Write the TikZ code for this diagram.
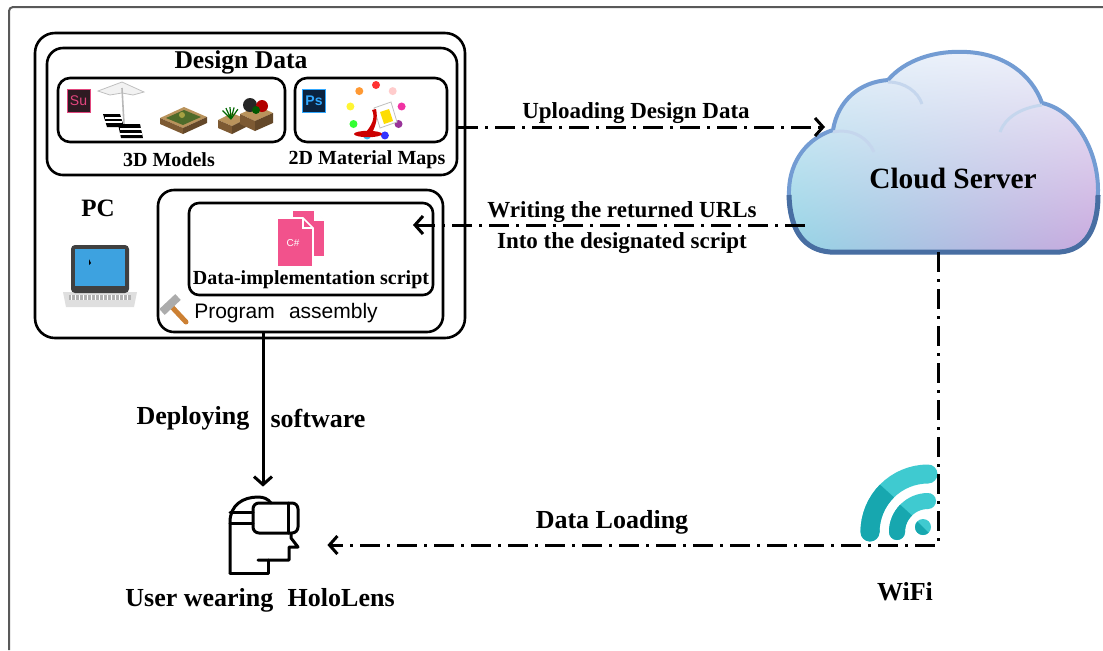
\documentclass[tikz,border=0pt]{standalone}
\usepackage{fontspec}
\setmainfont{Liberation Serif}
\setsansfont{Liberation Sans}
\usepackage{xcolor}
\usepackage{tikz}
\usetikzlibrary{arrows.meta}
\usetikzlibrary{calc}
\usetikzlibrary{shadings}

\definecolor{supink}{HTML}{E2467E}
\definecolor{sudark}{HTML}{2E1A22}
\definecolor{psblue}{HTML}{31A8FF}
\definecolor{psdark}{HTML}{0B2340}
\definecolor{cspink}{HTML}{F2528C}
\definecolor{wifilight}{HTML}{3FCAD0}
\definecolor{wifidark}{HTML}{17A7AF}
\definecolor{cloudrim}{HTML}{5A8ACB}
\definecolor{cloudtl}{HTML}{E8F2FB}
\definecolor{cloudtr}{HTML}{F0F1FA}
\definecolor{cloudbl}{HTML}{94D4E5}
\definecolor{cloudbr}{HTML}{C9A8DE}
\definecolor{screenblue}{HTML}{3DA2E0}
\definecolor{woodlight}{HTML}{B9935C}
\definecolor{wooddark}{HTML}{7D5A33}
\definecolor{grass}{HTML}{4E6B2A}

% outline of the cloud (pixel grid, y downwards)
\def\cloudpath{(830,252) .. controls (800,250) and (788,225) .. (789,190)
  .. controls (790,160) and (808,138) .. (833,130)
  .. controls (838,100) and (860,82) .. (888,80)
  .. controls (905,60) and (935,50) .. (967,52)
  .. controls (1005,54) and (1032,75) .. (1042,103)
  .. controls (1075,110) and (1098,150) .. (1098,190)
  .. controls (1098,230) and (1085,250) .. (1060,252) -- cycle}

\begin{document}
\begin{tikzpicture}[x=0.5pt,y=-0.5pt,
  boxframe/.style={draw,line width=1.3pt,rounded corners=#1,inner sep=0pt},
  title/.style={font=\fontsize{12.8}{15}\selectfont\bfseries},
  small/.style={font=\fontsize{10}{12}\selectfont\bfseries},
  lbl/.style={font=\fontsize{11.5}{14}\selectfont\bfseries},
  big/.style={font=\fontsize{13}{15}\selectfont\bfseries},
  flow/.style={line width=1.5pt,dash pattern=on 10pt off 3.5pt on 1.5pt off 3.5pt,-{Straight Barb[length=4pt,width=9pt]}},
  deploy/.style={line width=1.5pt,-{Straight Barb[length=4pt,width=9pt]}},
  icon/.style={line width=1.5pt,line join=round,line cap=round}]
\useasboundingbox (0,0) rectangle (1103,650);
\draw[gray!70!black,line width=1pt,rounded corners=2pt] (9,650) -- (9,7) -- (1103,7);

% PC side
\node[boxframe=10pt,minimum width=215pt,minimum height=152.5pt] (pc) at (250,185.5) {};
\node[boxframe=8pt,minimum width=205pt,minimum height=63.5pt] (design) at (252,111.5) {};
\node[boxframe=6pt,minimum width=113.5pt,minimum height=32pt] (models) at (171.5,110) {};
\node[boxframe=6pt,minimum width=76pt,minimum height=32pt] (maps) at (371,110) {};
\node[boxframe=8pt,minimum width=142.5pt,minimum height=71pt] (assembly) at (300.5,261) {};
\node[boxframe=5pt,minimum width=122pt,minimum height=46pt] (script) at (311,249) {};

\node[title] (designlbl) at (241,62) {Design Data};
\node[small] (modelslbl) at (169,160) {3D Models};
\node[small] (mapslbl) at (367,160) {2D Material Maps};
\node[font=\fontsize{12.5}{15}\selectfont\bfseries] (pclbl) at (98,208) {PC};
\node[small] (scriptlbl) at (311,280) {Data-implementation script};
\node[font=\sffamily\fontsize{10.5}{12}\selectfont] (asmlbl) at (286,313) {Program\hspace{0.4em} assembly};

% app logos
\node[draw=supink,fill=sudark,text=supink,minimum size=11.5pt,inner sep=0pt,
  font=\sffamily\fontsize{7}{7}\selectfont] (su) at (78.5,101) {Su};
\node[draw=psblue,fill=psdark,text=psblue,minimum size=11.5pt,inner sep=0pt,
  font=\sffamily\bfseries\fontsize{7}{7}\selectfont] (ps) at (314,101) {Ps};

% umbrella and loungers
\filldraw[fill=gray!10,draw=gray!50,line width=0.4pt] (98,91) -- (122,82) -- (144,92) -- (133,95) -- (122,93) -- (110,95) -- cycle;
\draw[gray!55,line width=0.8pt] (122,88) -- (124,124);
\fill[black] (103,114) -- (120,114) -- (124,127) -- (107,127) -- cycle;
\fill[black] (118,124) -- (140,124) -- (143,138) -- (121,138) -- cycle;
\foreach \yy in {118,122}
  \draw[white,line width=0.6pt] (105,\yy) -- (122,\yy);
\foreach \yy in {129,134}
  \draw[white,line width=0.6pt] (120,\yy) -- (142,\yy);

% sand pit
\fill[woodlight] (160,118) -- (184,107) -- (207,117) -- (183,128) -- cycle;
\fill[grass] (166,118) -- (184,110) -- (201,117) -- (183,125) -- cycle;
\fill[wooddark] (160,118) -- (183,128) -- (183,134) -- (160,124) -- cycle;
\fill[wooddark!80!black] (183,128) -- (207,117) -- (207,123) -- (183,134) -- cycle;
\fill[yellow!60!black] (182,115) circle (1.5pt);

% planters
\fill[woodlight] (218,120) -- (232,113) -- (246,119) -- (232,126) -- cycle;
\fill[wooddark] (218,120) -- (232,126) -- (232,134) -- (218,128) -- cycle;
\fill[wooddark!80!black] (232,126) -- (246,119) -- (246,127) -- (232,134) -- cycle;
\fill[woodlight] (240,114) -- (258,106) -- (273,113) -- (255,121) -- cycle;
\fill[wooddark] (240,114) -- (255,121) -- (255,131) -- (240,124) -- cycle;
\fill[wooddark!80!black] (255,121) -- (273,113) -- (273,123) -- (255,131) -- cycle;
\foreach \a in {55,75,95,115,135}
  \draw[green!40!black,line width=0.6pt] (231,119) -- ++(\a:6pt);
\fill[black!85] (250,105) circle (3.5pt);
\fill[red!70!black] (262,106) circle (3pt);
\fill[green!35!black] (256,110) circle (2pt);

% paint palette
\foreach \a/\c in {90/red,130/orange,170/yellow,210/green,250/cyan,290/blue,330/violet,10/magenta,50/pink}
  \fill[\c!80] (376,111) ++(\a:13pt) circle (2pt);
\filldraw[fill=white,draw=gray!50,line width=0.4pt] (374,108) -- (391,102) -- (397,122) -- (380,128) -- cycle;
\fill[yellow!80!orange] (380,112) -- (389,109) -- (393,121) -- (384,124) -- cycle;
\fill[red!80!black] (372,110) .. controls (376,118) and (371,126) .. (366,132) -- (372,133) .. controls (376,125) and (378,118) .. (376,109) -- cycle;
\fill[red!80!black] (368,134) ellipse (7pt and 1.6pt);

% laptop
\fill[gray!25] (63,292) -- (137,292) -- (134,307) -- (66,307) -- cycle;
\fill[black!75,rounded corners=2pt] (71,245) rectangle (129,293);
\fill[screenblue] (75,249) rectangle (125,286);
\fill[gray!60] (69,295) rectangle (131,300);
\foreach \k in {0,...,14}
  \draw[white,line width=0.3pt] ({71+4*\k},295) -- ({71+4*\k},300);
\fill[black] (89,259) -- (89,265) -- (91,263) -- cycle;

% script files
\foreach \x/\y/\w/\h in {292/210/33/47,277/218/36/49}
  \filldraw[fill=cspink,draw=white,line width=0.8pt] (\x,\y) -- ({\x+\w-10},\y) -- ({\x+\w},{\y+10}) -- ({\x+\w},{\y+\h}) -- (\x,{\y+\h}) -- cycle
    ({\x+\w-10},\y) -- ({\x+\w-10},{\y+10}) -- ({\x+\w},{\y+10});
\node[text=white,font=\sffamily\fontsize{5}{5}\selectfont] (cs) at (293,243) {C\#};

% hammer
\draw[line width=2.5pt,brown!80!orange,line cap=round] (186,322) -- (171,306);
\draw[line width=4pt,gray!65] (162,312) -- (178,297);

% cloud server
\shade[upper left=cloudtl,upper right=cloudtr,lower left=cloudbl,lower right=cloudbr] \cloudpath;
\draw[cloudrim!85,line width=2pt] \cloudpath;
\draw[cloudrim!80!black,line width=2.5pt] (789,195) .. controls (790,232) and (805,250) .. (830,252) -- (1060,252) .. controls (1085,250) and (1098,230) .. (1098,195);
\draw[cloudrim!35,line width=1.5pt] (833,132) .. controls (852,128) and (868,138) .. (874,152);
\draw[cloudrim!35,line width=1.5pt] (888,82) .. controls (905,82) and (918,92) .. (922,104);
\draw[cloudrim!35,line width=1.5pt] (1042,105) .. controls (1020,108) and (1005,118) .. (1000,132);
\node[inner sep=0pt,minimum width=154.5pt,minimum height=100pt] (cloud) at (943.5,152) {};
\node[font=\fontsize{14.7}{17}\selectfont\bfseries] (server) at (953,178) {Cloud Server};

% headset user
\node[inner sep=0pt,minimum width=35pt,minimum height=38pt] (hmd) at (263,535) {};
\begin{scope}[icon]
\draw (230,573) -- (230,522) .. controls (230,505) and (243,497) .. (258,497) .. controls (264,497) and (268,499) .. (271,503);
\draw (230,512) -- (253,512) (230,523) -- (253,523);
\draw[rounded corners=3pt] (253,503) rectangle (298,533);
\draw (288,503) -- (288,533);
\draw (291,533) -- (291,538) -- (298,547) -- (289,547) -- (289,560) -- (258,560);
\draw (268,560) -- (268,573) -- (230,573);
\end{scope}
\node[big] (userlbl) at (260,600) {User wearing\hspace{0.3em} HoloLens};

% wifi sign
\node[inner sep=0pt,minimum size=36pt] (wifi) at (897,500) {};
\begin{scope}[shift={(928,532)},x=1pt,y=1pt]
\draw[wifilight,line width=9.5pt,line cap=round] (0,29) arc[start angle=90,end angle=180,radius=29];
\draw[wifidark,line width=9.5pt] (135:29) arc[start angle=135,end angle=180,radius=29];
\fill[wifidark] (-29,0) circle (4.75);
\draw[wifilight,line width=8pt,line cap=round] (0,15.5) arc[start angle=90,end angle=180,radius=15.5];
\draw[wifidark,line width=8pt] (135:15.5) arc[start angle=135,end angle=180,radius=15.5];
\fill[wifidark] (-15.5,0) circle (4);
\fill[wifilight] (-2.5,2.5) circle (4);
\fill[wifidark] (-2.5,2.5) ++(135:4) arc[start angle=135,end angle=315,radius=4] -- cycle;
\end{scope}
\node[big] (wifilbl) at (905,592) {WiFi};

% connectors
\coordinate (upend) at (825,127);
\coordinate (wrstart) at (805,225);
\coordinate (wrend) at (413,225);
\coordinate (corner) at (938,545);
\draw[flow] (design.east |- upend) -- (upend);
\draw[flow] (wrstart) -- (wrend);
\draw[deploy,shorten >=5pt] (assembly.south -| hmd.north) -- (hmd.north);
\draw[flow,shorten >=14.5pt] (cloud.south -| corner) -- (corner) -- (hmd.east |- corner);

\node[lbl] (uplbl) at (636,113) {Uploading Design Data};
\node[lbl] (urllbl) at (622,212) {Writing the returned URLs};
\node[lbl] (intolbl) at (622,243) {Into the designated script};
\node[big] (deplbl) at (193,418) {Deploying};
\node[big] (softlbl) at (318,418) {software};
\node[big] (loadlbl) at (612,522) {Data Loading};
\end{tikzpicture}
\end{document}
